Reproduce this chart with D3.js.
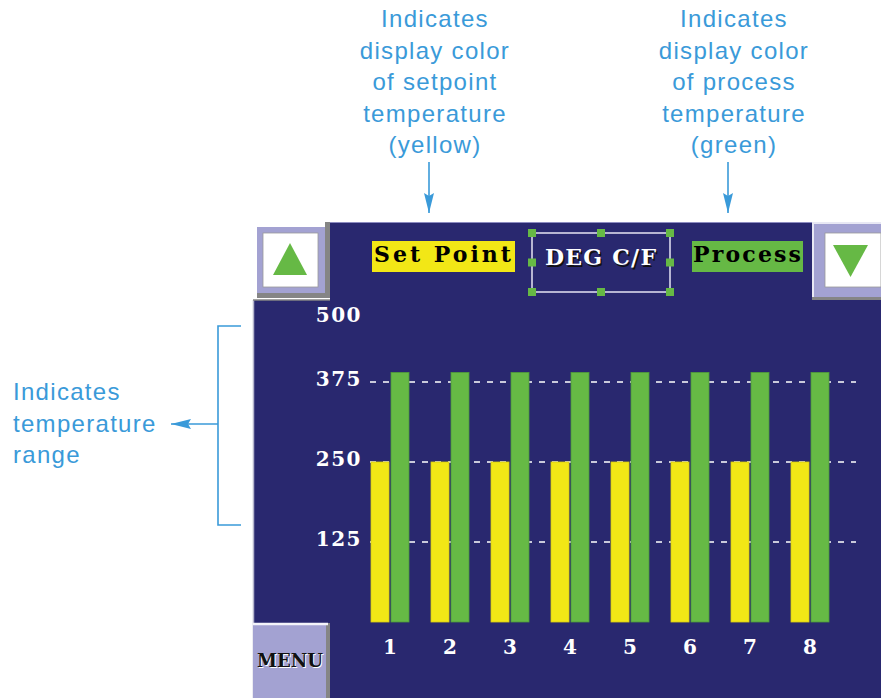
<!DOCTYPE html>
<html>
<head>
<meta charset="utf-8">
<script src="https://cdn.jsdelivr.net/npm/d3@7"></script>
<style>
  body { margin: 0; background: #fff; }
  svg { display: block; }
  .hmi { font-family: "DejaVu Serif", "Liberation Serif", serif; font-weight: bold; }
  .note { font-family: "Liberation Sans", Arial, sans-serif; font-size: 24px; letter-spacing: 1.3px; fill: #3a9ad9; }
</style>
</head>
<body>
<div id="chart"></div>
<script>
// data
const channels = ["1", "2", "3", "4", "5", "6", "7", "8"];
const setpointTemps = [250, 250, 250, 250, 250, 250, 250, 250];
const processTemps = [390, 390, 390, 390, 390, 390, 390, 390];
const yTicks = [125, 250, 375, 500];
const gridTicks = [125, 250, 375];
const seriesNames = ["Set Point", "Process"];

const noteSetpoint = ["Indicates", "display color", "of setpoint", "temperature", "(yellow)"];
const noteProcess = ["Indicates", "display color", "of process", "temperature", "(green)"];
const noteRange = ["Indicates", "temperature", "range"];

const W = 881, H = 698;
const navy = "#29286f", lavender = "#a3a2d2", shadow = "#858585", blue = "#3a9ad9";

const color = d3.scaleOrdinal()
    .domain(seriesNames)
    .range(["#f2e716", "#66b945"]);

const svg = d3.select("#chart").append("svg")
    .attr("width", W)
    .attr("height", H);

svg.append("defs").append("marker")
    .attr("id", "arrow")
    .attr("viewBox", "0 0 20 10")
    .attr("refX", 20).attr("refY", 5)
    .attr("markerWidth", 20).attr("markerHeight", 10)
    .attr("markerUnits", "userSpaceOnUse")
    .attr("orient", "auto")
    .append("path")
    .attr("d", "M0,0 L20,5 L0,10 L3,5 Z")
    .attr("fill", blue);

// ---- screen background ----
const screen = svg.append("g");
screen.append("rect").attr("x", 330).attr("y", 222).attr("width", 482).attr("height", 80).attr("fill", navy);
screen.append("rect").attr("x", 253).attr("y", 300).attr("width", W - 253).attr("height", H - 300).attr("fill", navy);
screen.append("line").attr("x1", 253.5).attr("x2", 253.5).attr("y1", 300).attr("y2", H)
    .attr("stroke", "#b4b4cc").attr("stroke-width", 1.5);
screen.append("line").attr("x1", 330).attr("x2", 812).attr("y1", 222.5).attr("y2", 222.5)
    .attr("stroke", "#8c8bc0").attr("stroke-width", 1);
screen.append("line").attr("x1", 253).attr("x2", 330).attr("y1", 300).attr("y2", 300)
    .attr("stroke", shadow).attr("stroke-width", 1.5);

// up button
const up = svg.append("g");
up.append("rect").attr("x", 325).attr("y", 222).attr("width", 5).attr("height", 76).attr("fill", shadow);
up.append("rect").attr("x", 257).attr("y", 293).attr("width", 73).attr("height", 5).attr("fill", shadow);
up.append("rect").attr("x", 257).attr("y", 227).attr("width", 68).attr("height", 66).attr("fill", lavender);
up.append("rect").attr("x", 263).attr("y", 233).attr("width", 55).attr("height", 54).attr("fill", "#fff")
    .attr("stroke", "#9a9a9a").attr("stroke-width", 0.8);
up.append("path").attr("d", "M290,243 L307,275 L273,275 Z").attr("fill", "#66b945");

// down button
const down = svg.append("g");
down.append("rect").attr("x", 812).attr("y", 222).attr("width", W - 812).attr("height", 78).attr("fill", shadow);
down.append("rect").attr("x", 812).attr("y", 222).attr("width", W - 812).attr("height", 75).attr("fill", lavender);
down.append("path").attr("d", `M813,297 L813,223 L${W},223`).attr("fill", "none").attr("stroke", "#e8e8f4").attr("stroke-width", 2);
down.append("rect").attr("x", 825).attr("y", 233).attr("width", W - 825).attr("height", 54).attr("fill", "#fff")
    .attr("stroke", "#9a9a9a").attr("stroke-width", 0.8);
down.append("path").attr("d", "M833,245 L868,245 L850.5,277 Z").attr("fill", "#66b945");

// menu button
const menu = svg.append("g");
menu.append("rect").attr("x", 253).attr("y", 623).attr("width", 77).attr("height", H - 623).attr("fill", shadow);
menu.append("rect").attr("x", 253).attr("y", 623).attr("width", 73).attr("height", H - 623).attr("fill", lavender);
menu.append("line").attr("x1", 253).attr("x2", 328).attr("y1", 624).attr("y2", 624).attr("stroke", "#f4f4fa").attr("stroke-width", 2.5);
menu.append("text").attr("x", 258).attr("y", 668)
    .attr("font-family", "DejaVu Serif, serif").attr("font-weight", "bold").attr("font-size", 19)
    .attr("textLength", 66).attr("lengthAdjust", "spacingAndGlyphs")
    .attr("fill", "#fff").text("MENU");
menu.append("text").attr("x", 257).attr("y", 667)
    .attr("font-family", "DejaVu Serif, serif").attr("font-weight", "bold").attr("font-size", 19)
    .attr("textLength", 66).attr("lengthAdjust", "spacingAndGlyphs")
    .attr("fill", "#111").text("MENU");

// ---- header labels ----
const header = svg.append("g").attr("class", "hmi");
header.append("rect").attr("x", 372).attr("y", 241).attr("width", 143).attr("height", 31).attr("fill", color("Set Point"));
header.append("text").attr("x", 374).attr("y", 262).attr("font-size", 22)
    .attr("textLength", 137).attr("lengthAdjust", "spacing").attr("fill", "#000").text("Set Point");
header.append("rect").attr("x", 692).attr("y", 241).attr("width", 111).attr("height", 31).attr("fill", color("Process"));
header.append("text").attr("x", 693).attr("y", 262).attr("font-size", 22)
    .attr("textLength", 108).attr("lengthAdjust", "spacing").attr("fill", "#000").text("Process");

// DEG C/F selection box
const box = { x0: 532, y0: 233, x1: 670, y1: 292 };
header.append("rect").attr("x", box.x0).attr("y", box.y0)
    .attr("width", box.x1 - box.x0).attr("height", box.y1 - box.y0)
    .attr("fill", "none").attr("stroke", "#e6e4f4").attr("stroke-width", 1.5);
const mx = (box.x0 + box.x1) / 2, my = (box.y0 + box.y1) / 2;
const handles = [[box.x0, box.y0], [mx, box.y0], [box.x1, box.y0], [box.x0, my], [box.x1, my],
                 [box.x0, box.y1], [mx, box.y1], [box.x1, box.y1]];
header.selectAll(".handle").data(handles).enter().append("rect")
    .attr("x", d => d[0] - 4).attr("y", d => d[1] - 4)
    .attr("width", 8).attr("height", 8)
    .attr("fill", "#66b945");
header.append("text").attr("x", 546.5).attr("y", 266.5)
    .attr("font-size", 22).attr("textLength", 111).attr("lengthAdjust", "spacing")
    .attr("fill", "#111").text("DEG C/F");
header.append("text").attr("x", 545).attr("y", 265)
    .attr("font-size", 22).attr("textLength", 111).attr("lengthAdjust", "spacing")
    .attr("fill", "#fff").text("DEG C/F");

// ---- bar chart ----
const x = d3.scaleBand()
    .domain(channels)
    .range([371, 829])
    .paddingInner(22 / 60)
    .paddingOuter(0);

const xSub = d3.scaleBand()
    .domain(seriesNames)
    .range([0, x.bandwidth()])
    .paddingInner(0.1);

const y = d3.scaleLinear()
    .domain([0, 500])
    .range([622, 302]);

const chart = svg.append("g");

// dashed gridlines (behind bars)
chart.selectAll(".grid").data(gridTicks).enter().append("line")
    .attr("x1", 370).attr("x2", 856)
    .attr("y1", d => y(d)).attr("y2", d => y(d))
    .attr("stroke", "#fff").attr("stroke-width", 1.5)
    .attr("stroke-dasharray", "6,7");

const rows = channels.map((c, i) => ({ channel: c, values: [
    { name: "Set Point", value: setpointTemps[i] },
    { name: "Process", value: processTemps[i] }
] }));

const groups = chart.selectAll(".group").data(rows).enter().append("g")
    .attr("transform", d => `translate(${x(d.channel)},0)`);

groups.selectAll("rect").data(d => d.values).enter().append("rect")
    .attr("x", d => xSub(d.name))
    .attr("y", d => y(d.value))
    .attr("width", xSub.bandwidth())
    .attr("height", d => y(0) - y(d.value))
    .attr("fill", d => color(d.name))
    .attr("stroke", d => d.name === "Process" ? "#4f9a3a" : "#d6cc12")
    .attr("stroke-width", 0.8);

// y axis
const yAxis = chart.append("g")
    .attr("transform", "translate(362,0)")
    .call(d3.axisLeft(y).tickValues(yTicks).tickSize(0).tickPadding(0));
yAxis.select(".domain").remove();
yAxis.selectAll("text")
    .attr("font-family", "DejaVu Serif, serif")
    .attr("font-weight", "bold")
    .attr("font-size", 20)
    .attr("letter-spacing", 1.5)
    .attr("fill", "#fff")
    .attr("dy", null)
    .attr("y", d => d === 500 ? 19 : 3);

// x axis
const xAxis = chart.append("g")
    .attr("transform", `translate(0,${y(0)})`)
    .call(d3.axisBottom(x).tickSize(0));
xAxis.select(".domain").remove();
xAxis.selectAll("text")
    .attr("font-family", "DejaVu Serif, serif")
    .attr("font-weight", "bold")
    .attr("font-size", 20)
    .attr("fill", "#fff")
    .attr("dy", null)
    .attr("y", 32);

// ---- annotations ----
const notes = svg.append("g");

function noteBlock(lines, xPos, anchor, yStart) {
    notes.append("text")
        .attr("class", "note")
        .attr("text-anchor", anchor)
        .selectAll("tspan").data(lines).enter().append("tspan")
        .attr("x", xPos)
        .attr("y", (d, i) => yStart + i * 31.5)
        .text(d => d);
}

noteBlock(noteSetpoint, 435, "middle", 27);
noteBlock(noteProcess, 734, "middle", 27);
noteBlock(noteRange, 13, "start", 400);

const arrowStyle = sel => sel.attr("stroke", blue).attr("stroke-width", 1.6).attr("fill", "none");
notes.append("line").attr("x1", 429).attr("x2", 429).attr("y1", 162).attr("y2", 213)
    .call(arrowStyle).attr("marker-end", "url(#arrow)");
notes.append("line").attr("x1", 728).attr("x2", 728).attr("y1", 162).attr("y2", 213)
    .call(arrowStyle).attr("marker-end", "url(#arrow)");

// bracket marking the temperature range
notes.append("path").attr("d", "M241,326 L218,326 L218,525 L241,525").call(arrowStyle);
notes.append("line").attr("x1", 218).attr("x2", 171).attr("y1", 424).attr("y2", 424)
    .call(arrowStyle).attr("marker-end", "url(#arrow)");
</script>
</body>
</html>
